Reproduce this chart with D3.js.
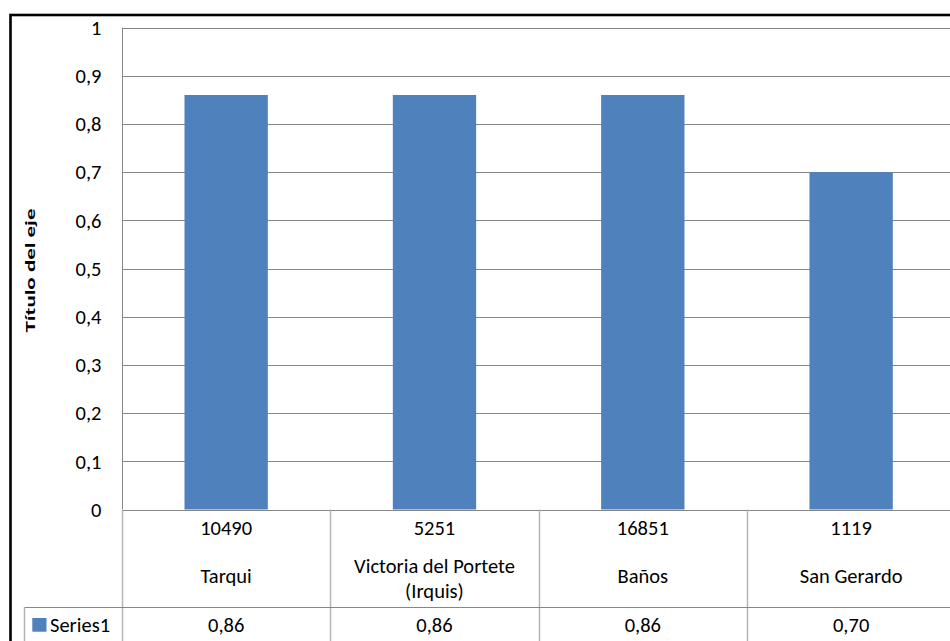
<!DOCTYPE html>
<html>
<head>
<meta charset="utf-8">
<script src="https://cdn.jsdelivr.net/npm/d3@7/dist/d3.min.js"></script>
<style>
  html, body { margin: 0; padding: 0; background: #fff; overflow: hidden; }
  svg { display: block; }
  text { font-family: Carlito, Lato, "Open Sans", sans-serif; fill: #000; }
</style>
</head>
<body>
<svg id="chart" width="950" height="641"></svg>
<script>
const categories = ["Tarqui", "Victoria del Portete (Irquis)", "Baños", "San Gerardo"];
const categoryLines = [["Tarqui"], ["Victoria del Portete", "(Irquis)"], ["Baños"], ["San Gerardo"]];
const populations = ["10490", "5251", "16851", "1119"];
const seriesName = "Series1";
const values = [0.86, 0.86, 0.86, 0.70];
const yTicks = [0, 0.1, 0.2, 0.3, 0.4, 0.5, 0.6, 0.7, 0.8, 0.9, 1];
const yTitle = "Título del eje";

const svg = d3.select("#chart");
const plotLeft = 122, plotRight = 955.3, plotTop = 27.5, plotBottom = 509.5;
const tableRow1Bottom = 607, tableBottom = 660, legendLeft = 24;
const gridColor = "#868686", tableLineColor = "#b4b4b4", barColor = "#4f81bd";
const fmt = v => d3.format(".1f")(v).replace(".", ",").replace(/^(\d),0$/, "$1");
const fmt2 = v => d3.format(".2f")(v).replace(".", ",");
const fs = 20.5;
const textColor = "#262626";

const x = d3.scaleBand().domain(categories).range([plotLeft, plotRight]).paddingInner(0.6).paddingOuter(0.3);
const y = d3.scaleLinear().domain([0, 1]).range([plotBottom, plotTop]);
const step = x.step();

// outer border
svg.append("rect").attr("x", 10.5).attr("y", 15).attr("width", 960).attr("height", 700)
  .attr("fill", "none").attr("stroke", "#000").attr("stroke-width", 2.6);

// gridlines
svg.append("g").selectAll("line").data(yTicks.filter(d => d > 0)).join("line")
  .attr("x1", plotLeft).attr("x2", plotRight)
  .attr("y1", d => Math.round(y(d)) + 0.5).attr("y2", d => Math.round(y(d)) + 0.5)
  .attr("stroke", gridColor).attr("stroke-width", 1);

// y axis line
svg.append("line").attr("x1", plotLeft + 0.5).attr("x2", plotLeft + 0.5)
  .attr("y1", plotTop).attr("y2", plotBottom).attr("stroke", gridColor);

// bars
svg.append("g").selectAll("rect").data(values).join("rect")
  .attr("x", (d, i) => x(categories[i]))
  .attr("width", x.bandwidth())
  .attr("y", d => y(d))
  .attr("height", d => y(0) - y(d))
  .attr("fill", barColor);

// y tick labels
const yAxis = d3.axisLeft(y).tickValues(yTicks).tickFormat(fmt).tickSize(0).tickPadding(0);
const ya = svg.append("g").attr("transform", `translate(101.5,0)`).call(yAxis);
ya.select(".domain").remove();
ya.selectAll("text").attr("font-family", "Carlito, Lato, sans-serif").attr("font-size", fs)
  .attr("fill", textColor).attr("dy", "0.33em");

// y title
svg.append("text").attr("transform", `translate(34.5,${(plotTop + plotBottom) / 2 + 2}) rotate(-90)`)
  .attr("text-anchor", "middle").attr("font-family", "'Liberation Sans', Arial, sans-serif")
  .attr("font-weight", "bold").attr("font-size", 14.5)
  .attr("textLength", 124).attr("lengthAdjust", "spacingAndGlyphs").text(yTitle);

// table lines
const tg = svg.append("g");
tg.append("line").attr("x1", plotLeft).attr("x2", plotRight).attr("y1", Math.round(y(0)) + 0.5).attr("y2", Math.round(y(0)) + 0.5)
  .attr("stroke", gridColor);
const seps = categories.map(c => x(c) - x.paddingOuter() * step);
tg.selectAll("line.sep").data(seps).join("line").attr("class", "sep")
  .attr("x1", d => Math.round(d) + 0.5).attr("x2", d => Math.round(d) + 0.5)
  .attr("y1", plotBottom).attr("y2", tableBottom)
  .attr("stroke", tableLineColor).attr("stroke-width", 1.5);
tg.append("line").attr("x1", legendLeft).attr("x2", plotRight).attr("y1", tableRow1Bottom + 0.5).attr("y2", tableRow1Bottom + 0.5)
  .attr("stroke", gridColor);
tg.append("line").attr("x1", legendLeft + 0.5).attr("x2", legendLeft + 0.5).attr("y1", tableRow1Bottom).attr("y2", tableBottom)
  .attr("stroke", tableLineColor).attr("stroke-width", 1.5);

// table text
const cx = c => x(c) + x.bandwidth() / 2;
svg.append("g").selectAll("text").data(populations).join("text")
  .attr("x", (d, i) => cx(categories[i])).attr("y", 535)
  .attr("text-anchor", "middle").attr("font-size", fs).attr("fill", textColor).text(d => d);

categoryLines.forEach((lines, i) => {
  const t = svg.append("text").attr("x", cx(categories[i])).attr("text-anchor", "middle")
    .attr("font-size", fs).attr("fill", textColor);
  const lh = 25;
  const b0 = lines.length > 1 ? 573 : 583;
  lines.forEach((l, j) => {
    t.append("tspan").attr("x", cx(categories[i])).attr("y", b0 + j * lh).text(l);
  });
});

svg.append("g").selectAll("text").data(values).join("text")
  .attr("x", (d, i) => cx(categories[i])).attr("y", 631.5)
  .attr("text-anchor", "middle").attr("font-size", fs).attr("fill", textColor).text(d => fmt2(d));

// legend key
svg.append("rect").attr("x", 32.3).attr("y", 618).attr("width", 14.2).attr("height", 13.7).attr("fill", barColor);
svg.append("text").attr("x", 50).attr("y", 631.5).attr("font-size", fs).attr("fill", textColor).text(seriesName);
</script>
</body>
</html>
